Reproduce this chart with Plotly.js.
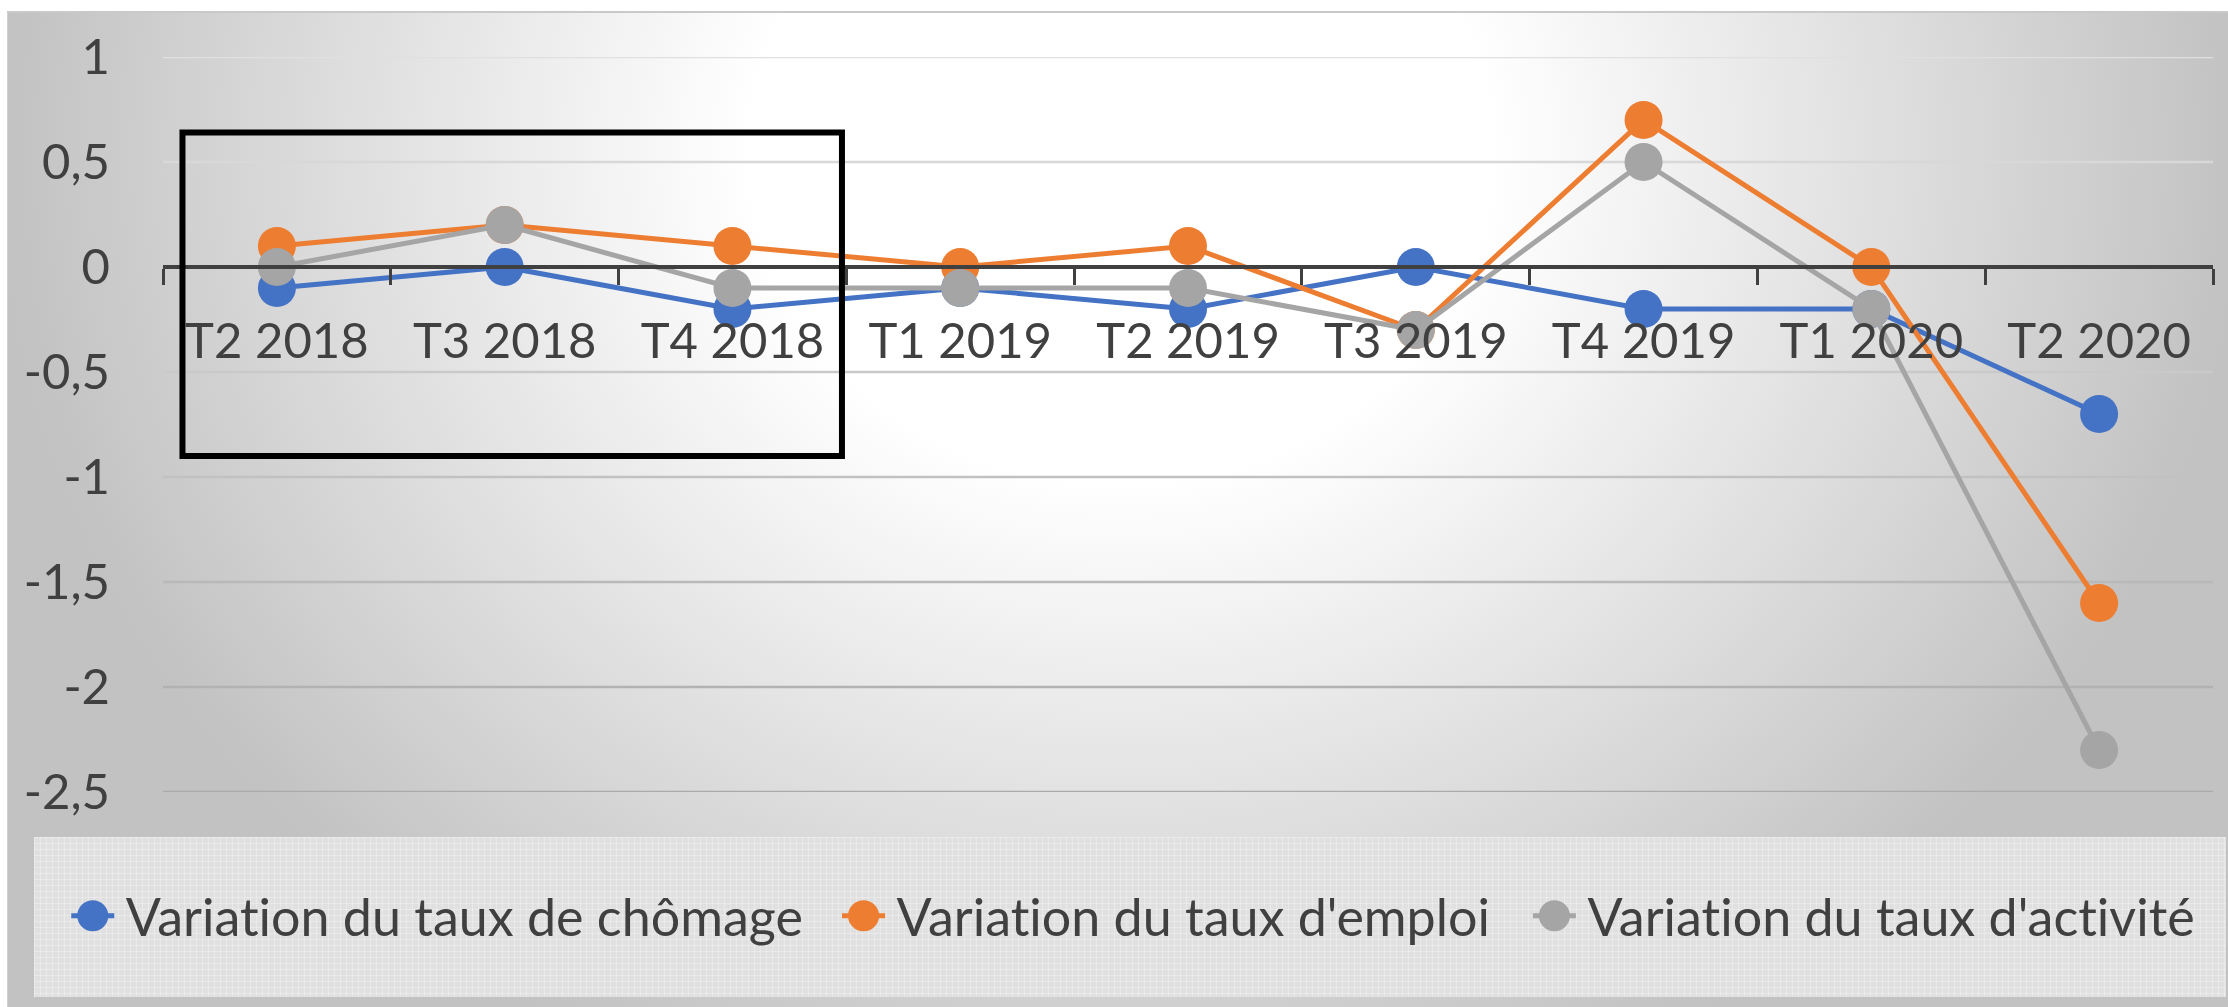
<!DOCTYPE html>
<html>
<head>
<meta charset="utf-8">
<script src="https://cdn.plot.ly/plotly-3.0.1.min.js"></script>
<style>
html, body { margin: 0; padding: 0; background: #ffffff; }
#wrap { position: relative; width: 2228px; height: 1007px; overflow: hidden; background: #ffffff; }
#bg { position: absolute; left: 7px; top: 11px; width: 2240px; height: 1010px;
  border-top: 2px solid #c9c9c9; border-left: 1px solid #d0d0d0;
  background: radial-gradient(ellipse 1120px 1000px at 1113px 139px, #ffffff 0%, #ffffff 33%, #c2c2c2 100%); }
#legbg { position: absolute; left: 34px; top: 837px; width: 2192px; height: 160px;
  background-color: #e0e0e0;
  background-image: linear-gradient(rgba(255,255,255,0.28) 1px, transparent 1px),
                    linear-gradient(90deg, rgba(255,255,255,0.28) 1px, transparent 1px);
  background-size: 6px 6px; }
#chart { position: absolute; left: 0; top: 0; width: 2228px; height: 1007px; }
#chart text { font-variant-ligatures: none; font-feature-settings: "liga" 0, "clig" 0; }
</style>
</head>
<body>
<div id="wrap">
  <div id="bg"></div>
  <div id="legbg"></div>
  <div id="chart"></div>
</div>
<script>
// ---- data ----
const categories = ['T2 2018', 'T3 2018', 'T4 2018', 'T1 2019', 'T2 2019', 'T3 2019', 'T4 2019', 'T1 2020', 'T2 2020'];
const chomage  = [-0.1, 0, -0.2, -0.1, -0.2, 0, -0.2, -0.2, -0.7];
const emploi   = [0.1, 0.2, 0.1, 0, 0.1, -0.3, 0.7, 0, -1.6];
const activite = [0, 0.2, -0.1, -0.1, -0.1, -0.3, 0.5, -0.2, -2.3];
const seriesNames = ['Variation du taux de chômage', "Variation du taux d'emploi", "Variation du taux d'activité"];
const yTickVals = [1, 0.5, 0, -0.5, -1, -1.5, -2, -2.5];
const yTickText = ['1', '0,5', '0', '-0,5', '-1', '-1,5', '-2', '-2,5'];
const yRange = [-2.5, 1];

// ---- styles ----
const colors = ['#4472C4', '#ED7D31', '#A5A5A5'];
const FONT = 'Lato, "Open Sans", sans-serif';
const TXT = '#404040';
const FS = 49;
const LEG_FS = 52;

const seriesValues = [chomage, emploi, activite];
const legendIds = ['legend', 'legend2', 'legend3'];
const data = seriesValues.map((vals, i) => ({
  type: 'scatter',
  mode: 'lines+markers',
  x: categories,
  y: vals,
  name: seriesNames[i],
  legend: legendIds[i],
  line: { color: colors[i], width: 5 },
  marker: { color: colors[i], size: 38 },
  hoverinfo: 'none',
  cliponaxis: false
}));

const legendBase = {
  orientation: 'h', xanchor: 'left', yanchor: 'middle', y: -0.1687,
  bgcolor: 'rgba(0,0,0,0)', borderwidth: 0,
  font: { family: FONT, size: LEG_FS, color: TXT }, itemwidth: 45
};

// gridline colours fade from light (top) to darker (bottom), as in the reference
function gridColor(i, n) {
  const top = 224, bot = 170;
  const c = Math.round(top + (bot - top) * i / (n - 1));
  return `rgb(${c},${c},${c})`;
}
const gridShapes = yTickVals.map((v, i) => ({
  type: 'line', xref: 'paper', yref: 'y', x0: 0, x1: 1, y0: v, y1: v,
  line: { color: gridColor(i, yTickVals.length), width: 2.5 }, layer: 'below'
}));

const layout = {
  width: 2228, height: 1007,
  margin: { l: 163, r: 15, t: 57, b: 215 },
  paper_bgcolor: 'rgba(0,0,0,0)',
  plot_bgcolor: 'rgba(0,0,0,0)',
  separators: ',.',
  font: { family: FONT, size: FS, color: TXT },
  showlegend: true,
  xaxis: {
    type: 'category', range: [-0.5, categories.length - 0.5],
    anchor: 'free', position: (0 - yRange[0]) / (yRange[1] - yRange[0]),
    showline: true, linecolor: '#404040', linewidth: 4,
    ticks: 'outside', tickson: 'boundaries', ticklen: 16, tickwidth: 3, tickcolor: '#404040',
    showgrid: false, zeroline: false,
    tickfont: { family: FONT, size: FS, color: TXT },
    ticklabelstandoff: 30
  },
  yaxis: {
    range: yRange, tickmode: 'array', tickvals: yTickVals, ticktext: yTickText,
    showgrid: false,
    zeroline: false, showline: false, ticks: '',
    tickfont: { family: FONT, size: FS, color: TXT },
    ticklabelstandoff: 52
  },
  legend: Object.assign({}, legendBase, { x: -0.045 }),
  legend2: Object.assign({}, legendBase, { x: 0.331 }),
  legend3: Object.assign({}, legendBase, { x: 0.668 }),
  shapes: gridShapes.concat([{
    type: 'rect', xref: 'paper', yref: 'paper',
    x0: 0.0095, x1: 0.3312, y0: 0.4571, y1: 0.8973,
    line: { color: '#000000', width: 6 }, fillcolor: 'rgba(0,0,0,0)', layer: 'above'
  }])
};

// Enlarge the legend line + circle symbols (Plotly caps legend marker size at 16px)
function enlargeLegendSymbols(gd) {
  const r = 15.5;
  const circle = `M${r},0A${r},${r} 0 1,1 0,-${r}A${r},${r} 0 0,1 ${r},0Z`;
  gd.querySelectorAll('g.traces').forEach(tr => {
    const txt = tr.querySelector('text');
    if (!txt) return;
    const tx = parseFloat(txt.getAttribute('x')) || 40;
    const cx = tx - 33;
    tr.querySelectorAll('.legendlines path').forEach(p => p.setAttribute('d', `M${cx - 21.5},0h43`));
    tr.querySelectorAll('.legendsymbols path.scatterpts').forEach(p => {
      p.setAttribute('transform', `translate(${cx},0)`);
      p.setAttribute('d', circle);
    });
  });
}

Plotly.newPlot('chart', data, layout, { staticPlot: true, displayModeBar: false }).then(gd => {
  enlargeLegendSymbols(gd);
});
</script>
</body>
</html>
